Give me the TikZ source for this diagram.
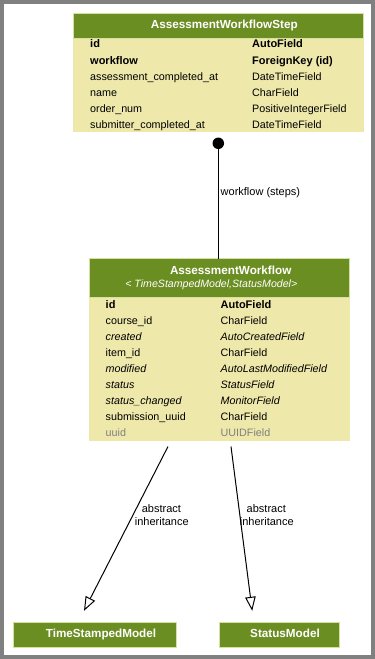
\documentclass[tikz,border=0pt]{standalone}
\usepackage{fontspec}
\setmainfont{Liberation Sans}
\usetikzlibrary{arrows.meta,calc}
\definecolor{hdrgreen}{RGB}{107,142,35}
\definecolor{bodyyellow}{RGB}{238,232,170}
\definecolor{framegray}{RGB}{128,128,128}
\definecolor{fadedtext}{RGB}{128,128,128}
\definecolor{boxedge}{RGB}{214,224,160}
\newcommand{\keyfield}[1]{{\fontsize{11}{12}\selectfont\bfseries #1}}
\tikzset{
 tablebody/.style={fill=bodyyellow, draw=bodyyellow, line width=0.6pt, inner sep=0pt, outer sep=0pt, anchor=north west},
 tablehead/.style={fill=hdrgreen, draw=boxedge, line width=0.6pt, inner sep=0pt, outer sep=0pt, anchor=north west},
 fieldtext/.style={inner sep=0pt, anchor=base west, font=\fontsize{10.75}{12}\selectfont},
 titletext/.style={inner sep=0pt, anchor=base, text=white, font=\fontsize{11.7}{14}\selectfont\bfseries},
 subtext/.style={inner sep=0pt, anchor=base, text=white, font=\fontsize{10.6}{12}\selectfont\itshape},
 edgelabel/.style={inner sep=0pt, anchor=base, font=\fontsize{11}{12}\selectfont},
 conn/.style={draw=black, line width=1pt},
 inherit/.style={conn, -{Triangle[open, length=14pt, width=10.5pt]}},
 enddot/.style={circle, fill=black, inner sep=0pt, outer sep=0pt, minimum size=11.5pt},
}
\begin{document}
\begin{tikzpicture}[x=1pt,y=-1pt]
\useasboundingbox (0,0) rectangle (375,659);
\fill[framegray] (0,0) rectangle (375,659);
\fill[white] (4,4) rectangle (371,655);

% ---- AssessmentWorkflowStep
\node[tablebody, minimum width=290pt, minimum height=118pt] (aws) at (73,13) {};
\node[tablehead, minimum width=290pt, minimum height=25pt] (awsh) at (73,13) {};
\node[titletext] (awst) at (224.3,28.5) {AssessmentWorkflowStep};
\node[fieldtext] (aws-n1) at (90,47.5) {\keyfield{id}};
\node[fieldtext] (aws-t1) at (252,47.5) {\keyfield{AutoField}};
\node[fieldtext] (aws-n2) at (90,64) {\keyfield{workflow}};
\node[fieldtext] (aws-t2) at (252,64) {\keyfield{ForeignKey (id)}};
\node[fieldtext] (aws-n3) at (90,80) {assessment\_completed\_at};
\node[fieldtext] (aws-t3) at (252,80) {DateTimeField};
\node[fieldtext] (aws-n4) at (90,96) {name};
\node[fieldtext] (aws-t4) at (252,96) {CharField};
\node[fieldtext] (aws-n5) at (90,112) {order\_num};
\node[fieldtext] (aws-t5) at (252,112) {PositiveIntegerField};
\node[fieldtext] (aws-n6) at (90,128) {submitter\_completed\_at};
\node[fieldtext] (aws-t6) at (252,128) {DateTimeField};

% ---- AssessmentWorkflow
\node[tablebody, minimum width=260pt, minimum height=182pt] (aw) at (89,258.5) {};
\node[tablehead, minimum width=260pt, minimum height=39pt] (awh) at (89,258.5) {};
\node[titletext] (awt) at (230.7,274.5) {AssessmentWorkflow};
\node[subtext] (aws-sub) at (211.3,287.5) {< TimeStampedModel,StatusModel>};
\node[fieldtext] (aw-n1) at (105.5,308.3) {\keyfield{id}};
\node[fieldtext] (aw-t1) at (220.5,308.3) {\keyfield{AutoField}};
\node[fieldtext] (aw-n2) at (105.5,324.3) {course\_id};
\node[fieldtext] (aw-t2) at (220.5,324.3) {CharField};
\node[fieldtext] (aw-n3) at (105.5,340.3) {\itshape created};
\node[fieldtext] (aw-t3) at (220.5,340.3) {\itshape AutoCreatedField};
\node[fieldtext] (aw-n4) at (105.5,356.3) {item\_id};
\node[fieldtext] (aw-t4) at (220.5,356.3) {CharField};
\node[fieldtext] (aw-n5) at (105.5,372.3) {\itshape modified};
\node[fieldtext] (aw-t5) at (220.5,372.3) {\itshape AutoLastModifiedField};
\node[fieldtext] (aw-n6) at (105.5,388.3) {\itshape status};
\node[fieldtext] (aw-t6) at (220.5,388.3) {\itshape StatusField};
\node[fieldtext] (aw-n7) at (105.5,404.3) {\itshape status\_changed};
\node[fieldtext] (aw-t7) at (220.5,404.3) {\itshape MonitorField};
\node[fieldtext] (aw-n8) at (105.5,420.3) {submission\_uuid};
\node[fieldtext] (aw-t8) at (220.5,420.3) {CharField};
\node[fieldtext, text=fadedtext] (aw-n9) at (105.5,436.3) {uuid};
\node[fieldtext, text=fadedtext] (aw-t9) at (220.5,436.3) {UUIDField};

% ---- bottom models
\node[tablehead, minimum width=163pt, minimum height=25pt] (tsm) at (13.5,621.8) {};
\node[titletext] (tsmt) at (101,637.6) {TimeStampedModel};
\node[tablehead, minimum width=120pt, minimum height=25pt] (sm) at (219.2,621.8) {};
\node[titletext] (smt) at (285,637.6) {StatusModel};

% ---- connectors
\node[enddot] (wfdot) at (218.3,143.3) {};
\draw[conn] (wfdot.center) -- (wfdot.center |- aw.north);
\node[edgelabel, anchor=base west] (lwf) at (220.5,195.7) {workflow (steps)};

\draw[inherit] ($(aw.south)+(-51,6)$) -- ($(tsm.north)+(-11,-11)$);
\node[edgelabel] (la1) at (161.4,512.3) {abstract};
\node[edgelabel] (la2) at (161.8,525.7) {inheritance};

\draw[inherit] ($(aw.south)+(12,6)$) -- ($(sm.north)+(-27,-11)$);
\node[edgelabel] (lb1) at (266.3,512.3) {abstract};
\node[edgelabel] (lb2) at (266.8,525.7) {inheritance};
\end{tikzpicture}
\end{document}
